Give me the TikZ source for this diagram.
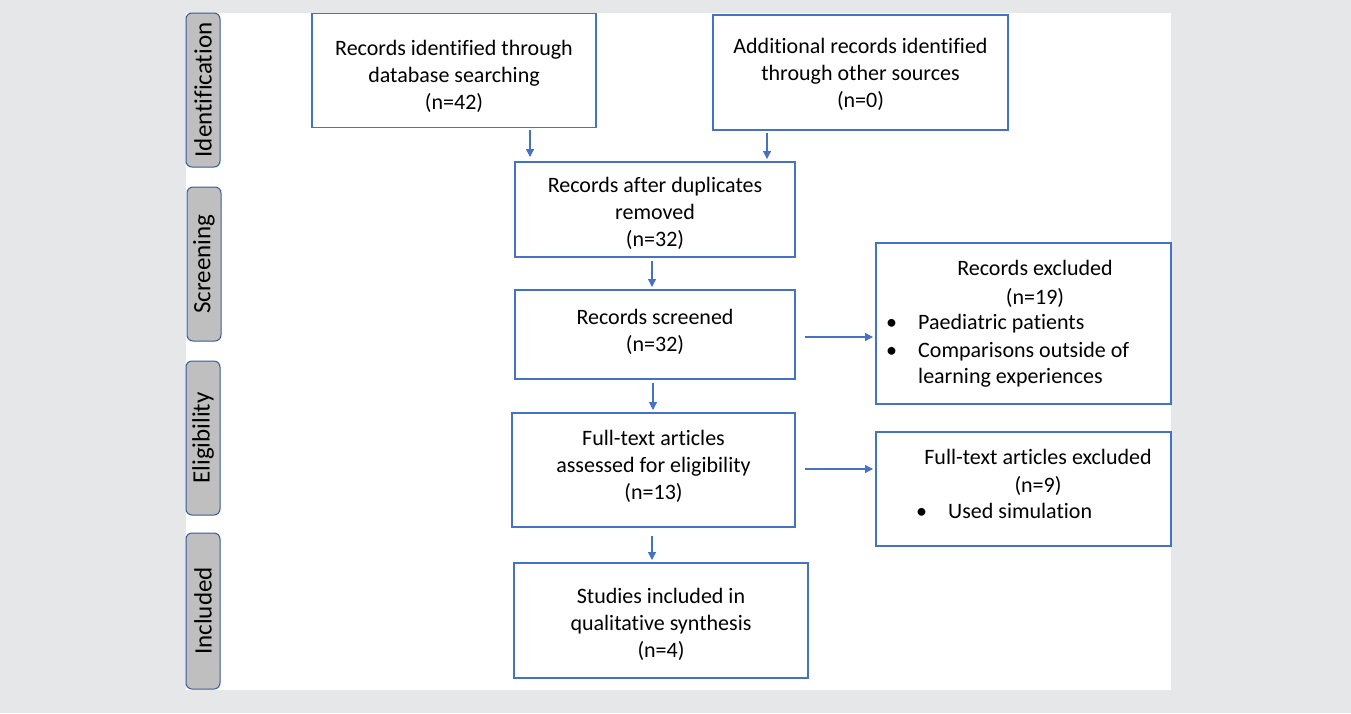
\documentclass[tikz,border=0pt]{standalone}
\usepackage{fontspec}
\setmainfont{Carlito}[Ligatures=NoCommon]
\usetikzlibrary{arrows.meta,positioning}
\definecolor{bgc}{RGB}{230,231,232}
\definecolor{boxc}{RGB}{68,114,196}
\definecolor{phasec}{RGB}{191,191,191}
\tikzset{
  every node/.style={font=\fontsize{22}{27}\selectfont, text=black, inner sep=0pt},
  flowbox/.style={draw=boxc, line width=1.2pt, fill=white},
  btxt/.style={align=center, inner sep=0pt},
  phase/.style={draw=boxc!80!black, line width=1pt, fill=phasec, rounded corners=6pt, minimum width=34pt, minimum height=#1, inner sep=0pt, font=\fontsize{25}{30}\selectfont},
  conn/.style={draw=boxc, line width=1.2pt, -{Triangle[length=8pt,width=8pt]}},
  txt/.style={anchor=base, inner sep=0pt},
  ltxt/.style={anchor=base west, inner sep=0pt}
}
\begin{document}
\begin{tikzpicture}[x=1pt,y=-1pt]
\useasboundingbox (0,0) rectangle (1351,713);
\fill[bgc] (0,0) rectangle (1351,713);
\fill[white] (186,13) rectangle (1171,690);

% phase labels
\node[phase=154pt] (pid) at (203,90) {\rotatebox{90}{Identification}};
\node[phase=154pt] (psc) at (204,264) {\rotatebox{90}{Screening}};
\node[phase=154pt] (pel) at (203,438) {\rotatebox{90}{Eligibility}};
\node[phase=156pt] (pin) at (203,611) {\rotatebox{90}{Included}};

% main boxes
\node[flowbox, minimum width=284pt, minimum height=114pt] (b1) at (454,70.5) {};
\node[btxt] (b1t) at (454,76) {Records identified through\\database searching\\(n=42)};
\node[flowbox, minimum width=295pt, minimum height=115pt] (b2) at (860.5,72.5) {};
\node[btxt] (b2t) at (860.5,74.5) {Additional records identified\\through other sources\\(n=0)};
\node[flowbox, minimum width=280pt, minimum height=95pt] (b3) at (655,209.5) {};
\node[btxt] (b3t) at (655,213) {Records after duplicates\\removed\\(n=32)};
\node[flowbox, minimum width=280pt, minimum height=89pt] (b4) at (655,334.5) {};
\node[btxt] (b4t) at (655,331.5) {Records screened\\(n=32)};
\node[flowbox, minimum width=283pt, minimum height=114pt] (b5) at (653.5,470) {};
\node[btxt] (b5t) at (653.5,466) {Full-text articles\\assessed for eligibility\\(n=13)};
\node[flowbox, minimum width=294pt, minimum height=115pt] (b6) at (661,620.5) {};
\node[btxt] (b6t) at (661,624.5) {Studies included in\\qualitative synthesis\\(n=4)};

% exclusion boxes
\node[flowbox, minimum width=295pt, minimum height=161pt] (e1) at (1023.5,323.5) {};
\node[txt] (e1t) at (1035,275) {Records excluded};
\node[txt] (e1n) at (1035,304) {(n=19)};
\node[ltxt] (e1b1) at (886,329) {\textbullet};
\node[ltxt] (e1l1) at (918,329) {Paediatric patients};
\node[ltxt] (e1b2) at (886,357) {\textbullet};
\node[ltxt] (e1l2) at (918,357) {Comparisons outside of};
\node[ltxt] (e1l3) at (918,383) {learning experiences};

\node[flowbox, minimum width=295pt, minimum height=114pt] (e2) at (1023.5,489) {};
\node[txt] (e2t) at (1038,464) {Full-text articles excluded};
\node[txt] (e2n) at (1038,492) {(n=9)};
\node[ltxt] (e2b1) at (916,518) {\textbullet};
\node[ltxt] (e2l1) at (948,518) {Used simulation};

% connector endpoints
\coordinate (a1s) at (530,130);  \coordinate (a1e) at (530,157);
\coordinate (a2s) at (767,133);  \coordinate (a2e) at (767,159);
\coordinate (a3s) at (652,261);  \coordinate (a3e) at (652,287);
\coordinate (a4s) at (653,383);  \coordinate (a4e) at (653,410);
\coordinate (a5s) at (652,536);  \coordinate (a5e) at (652,560);
\coordinate (h1s) at (805,337);  \coordinate (h1e) at (873,337);
\coordinate (h2s) at (805,469);  \coordinate (h2e) at (873,469);

\draw[conn] (a1s) -- (a1e);
\draw[conn] (a2s) -- (a2e);
\draw[conn] (a3s) -- (a3e);
\draw[conn] (a4s) -- (a4e);
\draw[conn] (a5s) -- (a5e);
\draw[conn] (h1s) -- (h1e);
\draw[conn] (h2s) -- (h2e);
\end{tikzpicture}
\end{document}
